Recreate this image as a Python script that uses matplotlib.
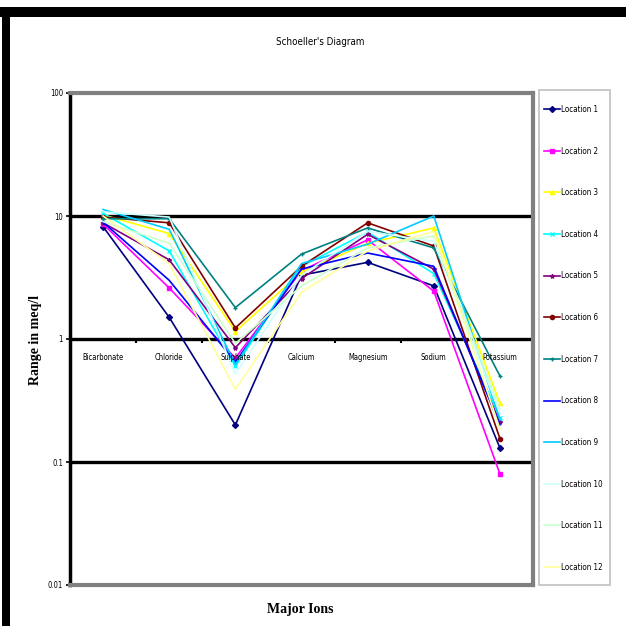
import matplotlib
matplotlib.use("Agg")
import matplotlib.pyplot as plt
from matplotlib.patches import Rectangle
from matplotlib.font_manager import FontProperties
import numpy as np

ions = ["Bicarbonate", "Chloride", "Sulphate", "Calcium", "Magnesium", "Sodium", "Potassium"]
locations = [f"Location {i}" for i in range(1, 13)]

loc1 = [8.2, 1.5, 0.20, 3.3, 4.2, 2.7, 0.13]
loc2 = [8.6, 2.6, 0.70, 3.6, 6.4, 2.45, 0.08]
loc3 = [10.2, 7.2, 1.15, 3.5, 6.0, 8.0, 0.30]
loc4 = [10.5, 5.2, 0.60, 3.9, 7.4, 3.4, 0.23]
loc5 = [8.8, 4.4, 0.85, 3.1, 7.1, 3.7, 0.21]
loc6 = [9.8, 8.8, 1.23, 3.9, 8.8, 5.7, 0.155]
loc7 = [9.5, 9.5, 1.80, 4.9, 8.0, 5.5, 0.50]
loc8 = [8.9, 3.0, 0.65, 3.7, 5.0, 3.9, 0.20]
loc9 = [11.3, 7.8, 0.62, 4.1, 5.9, 10.0, 0.22]
loc10 = [10.8, 9.8, 0.52, 3.3, 7.5, 6.2, 0.25]
loc11 = [9.0, 6.0, 0.92, 2.7, 5.5, 6.9, 0.27]
loc12 = [10.0, 4.1, 0.39, 2.4, 5.2, 7.5, 0.185]
series = [loc1, loc2, loc3, loc4, loc5, loc6, loc7, loc8, loc9, loc10, loc11, loc12]

colors = ["#000080", "#FF00FF", "#FFFF00", "#00FFFF", "#800080", "#800000",
          "#008080", "#0000FF", "#00CCFF", "#CCFFFF", "#CCFFCC", "#FFFF99"]
markers = ["D", "s", "^", "x", "*", "o", "+", "None", "None", "None", "None", "None"]

y_ticks = [0.01, 0.1, 1, 10, 100]
y_ticklabels = ["0.01", "0.1", "1", "10", "100"]

def narrow(size):
    return FontProperties(family="DejaVu Sans", stretch="condensed", size=size)

serif = ["Liberation Serif", "DejaVu Serif"]

W = H = 626
fig = plt.figure(figsize=(6.26, 6.26), dpi=100)
fig.patch.set_facecolor("white")

# outer black border (top and left)
fig.patches.append(Rectangle((0, 1 - 17 / H), 1, 10 / H, transform=fig.transFigure,
                             facecolor="black", edgecolor="none"))
fig.patches.append(Rectangle((2 / W, 0), 8 / W, 1 - 8 / H, transform=fig.transFigure,
                             facecolor="black", edgecolor="none"))
# legend frame
fig.patches.append(Rectangle((539 / W, 1 - 585 / H), 71 / W, 495 / H, transform=fig.transFigure,
                             facecolor="white", edgecolor="#c0c0c0", linewidth=1.2))

ax = fig.add_axes([70 / W, 1 - 585 / H, 463 / W, 492 / H])
ax.set_yscale("log")
ax.set_ylim(0.01, 100)
x = np.arange(len(ions))
ax.set_xlim(-0.5, len(ions) - 0.5)

for yv in [10, 1, 0.1]:
    ax.axhline(yv, color="black", lw=2.4, zorder=1)

for i, (vals, c, m) in enumerate(zip(series, colors, markers)):
    ax.plot(x, vals, color=c, lw=1.2, marker=m, markersize=3, markeredgewidth=1,
            markerfacecolor=c, markeredgecolor=c, label=locations[i], zorder=3)

# category ticks on y=1 line
ax.vlines(np.arange(0.5, len(ions) - 1, 1.0), 0.92, 1.0, color="black", lw=1.5, zorder=2)
for xi, name in zip(x, ions):
    ax.text(xi, 0.71, name, ha="center", va="center", fontproperties=narrow(5.5), zorder=4)

ax.set_xticks([])
ax.set_yticks(y_ticks)
ax.set_yticklabels(y_ticklabels, fontproperties=narrow(5.5))
ax.yaxis.set_minor_locator(matplotlib.ticker.NullLocator())
ax.tick_params(axis="y", length=3, width=1.2, color="black", pad=2)

for s in ["top", "right", "bottom"]:
    ax.spines[s].set_color("#808080")
    ax.spines[s].set_linewidth(3)
ax.spines["left"].set_color("black")
ax.spines["left"].set_linewidth(2.5)

fig.text(320 / W, 1 - 42 / H, "Schoeller's Diagram", ha="center", va="center",
         fontproperties=narrow(7))
fig.text(35 / W, 1 - 340 / H, "Range in meq/l", ha="center", va="center", rotation=90,
         fontsize=10, fontweight="bold", family=serif)
fig.text(300 / W, 1 - 610 / H, "Major Ions", ha="center", va="center",
         fontsize=10, fontweight="bold", family=serif)

leg = fig.legend(loc="upper left", bbox_to_anchor=(544 / W, 1 - 105 / H),
                 bbox_transform=fig.transFigure, prop=narrow(5.8),
                 labelspacing=4.05, handlelength=2.0, handletextpad=0.15,
                 borderpad=0, borderaxespad=0, fancybox=False, frameon=False)

fig.savefig("out.png", dpi=100, facecolor="white")
